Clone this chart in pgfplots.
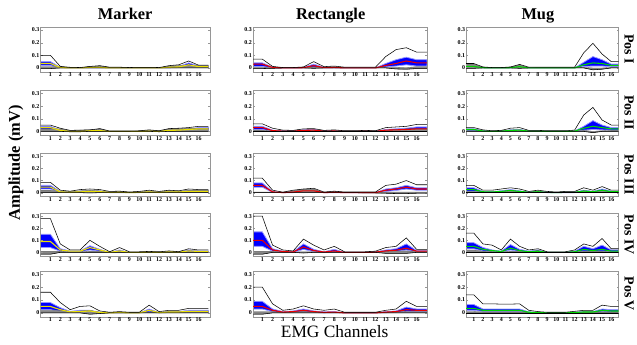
\documentclass[border=0pt]{standalone}
\usepackage{fontspec}
\setmainfont{Liberation Serif}
\usepackage{pgfplots}
\usepackage{pgfplotstable}
\pgfplotsset{compat=1.18}
\definecolor{meanY}{RGB}{235,225,0}
\definecolor{meanR}{RGB}{235,0,0}
\definecolor{meanG}{RGB}{0,215,0}
\definecolor{graymid}{RGB}{135,135,135}
\definecolor{lightblue}{RGB}{150,150,255}
\definecolor{framegray}{RGB}{150,150,150}

% columns: x = channel (0 and 17 repeat channels 1 and 16), mx = max, bu/bl = blue band, mn = mean, lo = min, g = grey band top
\pgfplotstableread{
x mx bu mn bl lo g
0 0.10 0.05 0.035 0.02 -0.005 0.01
1 0.10 0.05 0.035 0.02 -0.005 0.01
2 0.012 0.005 0.003 0 0 0.01
3 0.005 0.002 0 0 0 0.003
4 0.003 0 0 0 0 0
5 0.012 0.006 0.004 0 0 0.012
6 0.018 0.006 0.004 0 0 0.015
7 0.006 0.002 0 0 0 0.004
8 0.006 0.002 0.001 0 0 0.004
9 0.003 0 0 0 0 0
10 0.005 0.002 0 0 0 0.003
11 0.005 0.002 0 0 0 0.003
12 0.003 0 0 0 0 0
13 0.018 0.008 0.005 0 0 0.015
14 0.025 0.012 0.008 0.003 0 0.02
15 0.055 0.04 0.025 0.015 0 0.02
16 0.022 0.015 0.01 0.005 0 0.02
17 0.022 0.015 0.01 0.005 0 0.02
}\tMa
\pgfplotstableread{
x mx bu mn bl lo g
0 0.07 0.04 0.03 0.012 -0.005 0.005
1 0.07 0.04 0.03 0.012 -0.005 0.005
2 0.012 0.006 0.004 0 -0.003 0.003
3 0.003 0 0 0 0 0
4 0.003 0 0 0 0 0
5 0.008 0.004 0.002 0 0 0.002
6 0.05 0.03 0.018 0.006 -0.003 0.008
7 0.01 0.004 0.002 0 0 0.002
8 0.015 0.006 0.004 0 0 0.01
9 0.006 0 0 0 0 0
10 0.006 0 0 0 0 0
11 0.006 0 0 0 0 0
12 0.006 0 0 0 0 0
13 0.09 0.035 0.02 0.008 0 0.005
14 0.145 0.065 0.035 0.015 -0.008 0.005
15 0.16 0.085 0.055 0.025 -0.01 0.003
16 0.125 0.065 0.04 0.015 -0.005 0.01
17 0.125 0.065 0.04 0.015 -0.005 0.01
}\tRa
\pgfplotstableread{
x mx bu mn bl lo g
0 0.035 0.02 0.012 0.005 -0.003 0.03
1 0.035 0.02 0.012 0.005 -0.003 0.03
2 0.008 0.003 0.002 0 0 0.005
3 0.003 0 0 0 0 0
4 0.003 0 0 0 0 0
5 0.008 0.003 0.002 0 0 0.005
6 0.028 0.015 0.01 0.005 -0.003 0.025
7 0.006 0 0 0 0 0
8 0.006 0 0 0 0 0.003
9 0.006 0 0 0 0 0.003
10 0.006 0 0 0 0 0.003
11 0.006 0 0 0 0 0.003
12 0.006 0 0 0 0 0.003
13 0.12 0.045 0.025 0.012 0 0.005
14 0.195 0.09 0.04 0.015 -0.015 0
15 0.11 0.065 0.035 0.015 -0.01 0
16 0.05 0.03 0.02 0.01 0 0.005
17 0.05 0.03 0.02 0.01 0 0.005
}\tUa
\pgfplotstableread{
x mx bu mn bl lo g
0 0.05 0.04 0.03 0.015 0 0.02
1 0.05 0.04 0.03 0.015 0 0.02
2 0.025 0.01 0.008 0.003 0 0.02
3 0.008 0.003 0 0 -0.003 0.005
4 0.01 0.004 0 0 -0.003 0.01
5 0.012 0.008 0.005 0 0 0.012
6 0.022 0.01 0.006 0.002 0 0.02
7 0.003 0 0 0 0 0
8 0.003 0 0 0 0 0
9 0.003 0 0 0 0 0
10 0.005 0 0 0 0 0.003
11 0.012 0.005 0.002 0 0 0.01
12 0.005 0 0 0 -0.003 0.003
13 0.022 0.012 0.008 0.003 0 0.02
14 0.025 0.014 0.01 0.005 0 0.022
15 0.03 0.02 0.015 0.008 0 0.025
16 0.04 0.03 0.02 0.01 0 0.025
17 0.04 0.03 0.02 0.01 0 0.025
}\tMb
\pgfplotstableread{
x mx bu mn bl lo g
0 0.06 0.04 0.03 0.015 0 0.01
1 0.06 0.04 0.03 0.015 0 0.01
2 0.025 0.01 0.006 0.002 0 0.005
3 0.01 0.004 0.002 0 0 0.003
4 0.008 0.003 0.002 0 0 0.003
5 0.02 0.012 0.008 0.003 0 0.01
6 0.022 0.015 0.01 0.004 0 0.012
7 0.008 0.003 0.002 0 0 0.003
8 0.012 0.005 0.003 0 0 0.005
9 0.005 0 0 0 0 0.002
10 0.005 0 0 0 0 0.002
11 0.008 0.003 0.002 0 0 0.003
12 0.005 0 0 0 0 0.002
13 0.03 0.015 0.01 0.004 0 0.01
14 0.035 0.02 0.012 0.005 0 0.015
15 0.04 0.025 0.015 0.006 0 0.02
16 0.055 0.035 0.02 0.01 0 0.02
17 0.055 0.035 0.02 0.01 0 0.02
}\tRb
\pgfplotstableread{
x mx bu mn bl lo g
0 0.03 0.02 0.015 0.005 0 0.005
1 0.03 0.02 0.015 0.005 0 0.005
2 0.012 0.005 0.003 0 0 0.003
3 0.005 0 0 0 0 0
4 0.008 0.003 0.002 0 0 0.003
5 0.025 0.012 0.008 0.003 0 0.01
6 0.03 0.015 0.01 0.004 0 0.012
7 0.008 0.003 0.002 0 0 0.003
8 0.008 0.003 0.002 0 0 0.003
9 0.005 0 0 0 0 0
10 0.005 0 0 0 0 0
11 0.005 0 0 0 0 0
12 0.01 0.003 0.002 0 0 0.003
13 0.13 0.04 0.025 0.01 0 0.008
14 0.19 0.085 0.04 0.015 -0.01 0
15 0.09 0.05 0.03 0.012 0 0.005
16 0.05 0.03 0.02 0.01 0 0.008
17 0.05 0.03 0.02 0.01 0 0.008
}\tUb
\pgfplotstableread{
x mx bu mn bl lo g
0 0.085 0.06 0.045 0.03 0 0.02
1 0.085 0.06 0.045 0.03 0 0.02
2 0.02 0.01 0.006 0.002 0 0.01
3 0.012 0.005 0.003 0 0 0.008
4 0.025 0.01 0.006 0.002 0 0.015
5 0.03 0.015 0.01 0.004 -0.003 0.02
6 0.025 0.012 0.008 0.003 0 0.015
7 0.01 0.003 0.002 0 0 0.005
8 0.012 0.005 0.003 0 0 0.008
9 0.005 0 0 0 0 0.003
10 0.01 0.003 0.002 0 0 0.005
11 0.02 0.01 0.006 0.002 0 0.01
12 0.01 0.003 0.002 0 0 0.005
13 0.02 0.01 0.006 0.002 0 0.015
14 0.015 0.008 0.005 0.002 0 0.01
15 0.03 0.015 0.01 0.004 0 0.02
16 0.025 0.015 0.01 0.005 0 0.02
17 0.025 0.015 0.01 0.005 0 0.02
}\tMc
\pgfplotstableread{
x mx bu mn bl lo g
0 0.12 0.08 0.06 0.045 0 0.005
1 0.12 0.08 0.06 0.045 0 0.005
2 0.02 0.008 0.006 0.002 0 0.005
3 0.004 0 0 0 0 0
4 0.02 0.008 0.004 0 0 0.015
5 0.03 0.02 0.015 0.008 0 0.028
6 0.036 0.02 0.015 0.008 0 0.03
7 0.005 0 0 0 0 0
8 0.012 0.004 0.003 0 0 0.008
9 0.005 0 0 0 0 0.003
10 0.005 0 0 0 0 0.003
11 0.005 0 0 0 -0.003 0.003
12 0.005 0 0 0 -0.003 0.003
13 0.06 0.03 0.02 0.01 -0.005 0.005
14 0.07 0.04 0.03 0.018 -0.008 0.005
15 0.10 0.06 0.045 0.03 -0.008 0.005
16 0.065 0.04 0.03 0.02 -0.005 0.005
17 0.065 0.04 0.03 0.02 -0.005 0.005
}\tRc
\pgfplotstableread{
x mx bu mn bl lo g
0 0.06 0.04 0.025 0.012 0 0.01
1 0.06 0.04 0.025 0.012 0 0.01
2 0.02 0.01 0.007 0.003 0 0.005
3 0.02 0.008 0.005 0.002 0 0.005
4 0.03 0.015 0.01 0.004 0 0.01
5 0.04 0.025 0.018 0.01 0 0.015
6 0.03 0.015 0.01 0.005 0 0.01
7 0.01 0.004 0.003 0 0 0.003
8 0.02 0.01 0.007 0.003 0 0.01
9 0.01 0.003 0.002 0 0 0.003
10 0.005 0 0 0 0 0.002
11 0.01 0.003 0.002 0 0 0.005
12 0.01 0.003 0.002 0 0 0.005
13 0.04 0.02 0.013 0.006 0 0.015
14 0.02 0.01 0.007 0.003 0 0.01
15 0.05 0.03 0.02 0.01 0 0.015
16 0.02 0.012 0.008 0.004 0 0.01
17 0.02 0.012 0.008 0.004 0 0.01
}\tUc
\pgfplotstableread{
x mx bu mn bl lo g
0 0.28 0.15 0.09 0.04 -0.015 0.01
1 0.28 0.15 0.09 0.04 -0.015 0.01
2 0.07 0.03 0.02 0.01 0 0.01
3 0.02 0.012 0.01 0.005 0 0.005
4 0.02 0.012 0.01 0.005 0 0.005
5 0.10 0.055 0.04 0.02 0 0.01
6 0.05 0.025 0.02 0.01 0 0.01
7 0.005 0 0 0 0 0
8 0.04 0.02 0.012 0.005 0 0.005
9 0.005 0 0 0 0 0
10 0.005 0 0 0 0 0
11 0.008 0.003 0.002 0 0 0.003
12 0.005 0 0 0 0 0
13 0.012 0.006 0.004 0 0 0.005
14 0.006 0.003 0.002 0 0 0.003
15 0.03 0.02 0.012 0.005 0 0.005
16 0.02 0.012 0.008 0.004 0 0.005
17 0.02 0.012 0.008 0.004 0 0.005
}\tMd
\pgfplotstableread{
x mx bu mn bl lo g
0 0.30 0.17 0.10 0.05 -0.015 0.01
1 0.30 0.17 0.10 0.05 -0.015 0.01
2 0.06 0.03 0.02 0.01 0 0.01
3 0.02 0.01 0.007 0.003 0 0.005
4 0.012 0.005 0.003 0 0 0.003
5 0.11 0.07 0.045 0.025 -0.005 0.005
6 0.06 0.025 0.015 0.007 0 0.005
7 0.02 0.005 0.003 0 0 0.003
8 0.05 0.025 0.012 0.005 0 0.005
9 0.005 0 0 0 0 0
10 0.005 0 0 0 0 0
11 0.005 0 0 0 0 0
12 0.01 0.004 0.002 0 0 0.005
13 0.04 0.02 0.012 0.005 -0.008 0.01
14 0.05 0.03 0.018 0.008 -0.008 0.012
15 0.12 0.07 0.035 0.02 -0.008 0.012
16 0.025 0.015 0.01 0.005 0 0.008
17 0.025 0.015 0.01 0.005 0 0.008
}\tRd
\pgfplotstableread{
x mx bu mn bl lo g
0 0.16 0.08 0.05 0.03 0 0.02
1 0.16 0.08 0.05 0.03 0 0.02
2 0.07 0.04 0.025 0.012 0 0.01
3 0.06 0.02 0.015 0.008 0 0.008
4 0.02 0.01 0.007 0.003 0 0.005
5 0.11 0.065 0.035 0.02 0 0.01
6 0.05 0.025 0.015 0.008 0 0.01
7 0.02 0.01 0.005 0.002 0 0.005
8 0.03 0.02 0.01 0.005 0 0.015
9 0.005 0 0 0 0 0
10 0.005 0 0 0 0 0
11 0.005 0 0 0 0 0
12 0.02 0.01 0.005 0.002 0 0.005
13 0.07 0.05 0.025 0.012 0 0.01
14 0.05 0.03 0.015 0.008 0 0.01
15 0.115 0.06 0.025 0.012 0 0.01
16 0.03 0.02 0.01 0.005 0 0.005
17 0.03 0.02 0.01 0.005 0 0.005
}\tUd
\pgfplotstableread{
x mx bu mn bl lo g
0 0.16 0.08 0.05 0.025 0 0.02
1 0.16 0.08 0.05 0.025 0 0.02
2 0.08 0.04 0.025 0.012 0 0.02
3 0.025 0.012 0.008 0.004 0 0.01
4 0.05 0.02 0.01 0.004 0 0.015
5 0.055 0.02 0.015 0.006 -0.01 0.02
6 0.015 0.005 0.003 0 -0.005 0.005
7 0.005 0 0 0 0 0
8 0.01 0.004 0.003 0 0 0.005
9 0.005 0 0 0 0 0
10 0.005 0 0 0 0 0
11 0.06 0.03 0.02 0.008 0 0.005
12 0.01 0.003 0.002 0 0 0.005
13 0.02 0.01 0.007 0.003 0 0.01
14 0.02 0.01 0.007 0.003 0 0.01
15 0.035 0.02 0.012 0.006 0 0.01
16 0.035 0.02 0.012 0.006 0 0.01
17 0.035 0.02 0.012 0.006 0 0.01
}\tMe
\pgfplotstableread{
x mx bu mn bl lo g
0 0.20 0.09 0.05 0.03 -0.01 0.01
1 0.20 0.09 0.05 0.03 -0.01 0.01
2 0.07 0.03 0.02 0.01 0 0.01
3 0.02 0.01 0.006 0.003 0 0.005
4 0.03 0.015 0.01 0.004 0 0.008
5 0.055 0.03 0.02 0.01 0 0.01
6 0.03 0.015 0.01 0.004 0 0.008
7 0.02 0.008 0.004 0 0 0.005
8 0.03 0.01 0.006 0.002 0 0.005
9 0.005 0 0 0 0 0
10 0.005 0 0 0 0 0
11 0.005 0 0 0 0 0
12 0.005 0 0 0 0 0
13 0.02 0.01 0.006 0.002 0 0.005
14 0.03 0.015 0.01 0.004 0 0.008
15 0.09 0.045 0.025 0.012 0 0.01
16 0.05 0.03 0.02 0.01 0 0.01
17 0.05 0.03 0.02 0.01 0 0.01
}\tRe
\pgfplotstableread{
x mx bu mn bl lo g
0 0.14 0.065 0.035 0.02 0 0.01
1 0.14 0.065 0.035 0.02 0 0.01
2 0.07 0.03 0.02 0.012 0 0.008
3 0.07 0.03 0.02 0.012 0 0.008
4 0.068 0.03 0.02 0.012 0 0.008
5 0.068 0.03 0.02 0.012 0 0.008
6 0.07 0.03 0.02 0.012 0 0.008
7 0.02 0.008 0.005 0.003 0 0.005
8 0.01 0.004 0.003 0 0 0.003
9 0.005 0 0 0 0 0
10 0.005 0 0 0 0 0
11 0.005 0 0 0 0 0
12 0.012 0.005 0.003 0 0 0.003
13 0.02 0.01 0.007 0.003 0 0.008
14 0.02 0.01 0.007 0.003 0 0.008
15 0.06 0.03 0.02 0.01 0 0.008
16 0.05 0.025 0.015 0.008 0 0.008
17 0.05 0.025 0.015 0.008 0 0.008
}\tUe

\pgfplotsset{panel/.style={
  scale only axis, anchor=north west,
  ymin=-0.03, ymax=0.325,
  ytick={0,0.1,0.2,0.3}, yticklabels={0,0.1,0.2,0.3},
  xtick={1,2,3,4,5,6,7,8,9,10,11,12,13,14,15,16},
  xticklabels={1,2,3,4,5,6,7,8,9,10,11,12,13,14,15,16},
  axis line style={draw=framegray},
  tick align=inside, major tick length=2bp,
  ytick style={draw=framegray}, xtick style={draw=none},
  tick label style={font=\fontsize{6}{6}\selectfont\bfseries, inner sep=1bp},
}}

% #1 table, #2 left, #3 top (from bottom), #4 width, #5 height, #6 xmin, #7 xmax, #8 mean colour
\newcommand\panel[8]{%
\begin{axis}[panel, hide axis, stack plots=y, at={(#2bp,#3bp)}, width=#4bp, height=#5bp, xmin=#6, xmax=#7]
\addplot[draw=none] table[x=x,y=lo]{#1};
\addplot[fill=graymid, draw=black!60, line width=0.3pt] table[x=x,y expr=\thisrow{g}-\thisrow{lo}]{#1} \closedcycle;
\addplot[draw=none] table[x=x,y expr=\thisrow{bl}-\thisrow{g}]{#1};
\addplot[fill=blue, draw=lightblue, line width=0.8pt] table[x=x,y expr=\thisrow{bu}-\thisrow{bl}]{#1} \closedcycle;
\end{axis}
\begin{axis}[panel, at={(#2bp,#3bp)}, width=#4bp, height=#5bp, xmin=#6, xmax=#7]
\addplot[#8, line width=1.1pt] table[x=x,y=mn]{#1};
\addplot[black, line width=0.55pt] table[x=x,y=mx]{#1};
\addplot[black, line width=0.55pt] table[x=x,y=lo]{#1};
\end{axis}}

\begin{document}
\begin{tikzpicture}
\path (0,0) rectangle (637bp,346bp);
% row 1
\panel{\tMa}{40.7}{319}{170}{45}{0}{17.15}{meanY}
\panel{\tRa}{254}{319}{175}{45}{0.1}{17.04}{meanR}
\panel{\tUa}{468}{319}{153}{45}{0.17}{16.8}{meanG}
% row 2
\panel{\tMb}{40.7}{255.3}{170}{45}{0}{17.15}{meanY}
\panel{\tRb}{254}{255.3}{175}{45}{0.1}{17.04}{meanR}
\panel{\tUb}{468}{255.3}{153}{45}{0.17}{16.8}{meanG}
% row 3
\panel{\tMc}{40.7}{192}{170}{43}{0}{17.15}{meanY}
\panel{\tRc}{254}{192}{175}{43}{0.1}{17.04}{meanR}
\panel{\tUc}{468}{192}{153}{43}{0.17}{16.8}{meanG}
% row 4
\panel{\tMd}{40.7}{132}{170}{43}{0}{17.15}{meanY}
\panel{\tRd}{254}{132}{175}{43}{0.1}{17.04}{meanR}
\panel{\tUd}{468}{132}{153}{43}{0.17}{16.8}{meanG}
% row 5
\panel{\tMe}{40.7}{74}{170}{46}{0}{17.15}{meanY}
\panel{\tRe}{254}{74}{175}{46}{0.1}{17.04}{meanR}
\panel{\tUe}{468}{74}{153}{46}{0.17}{16.8}{meanG}
% titles and labels
\node[font=\fontsize{16.5}{16.5}\selectfont\bfseries, anchor=base] at (125.7bp,326.5bp) {Marker};
\node[font=\fontsize{16.5}{16.5}\selectfont\bfseries, anchor=base] at (332bp,326.5bp) {Rectangle};
\node[font=\fontsize{16.5}{16.5}\selectfont\bfseries, anchor=base] at (540bp,326.5bp) {Mug};
\node[rotate=-90, font=\fontsize{14}{14}\selectfont\bfseries] at (631.5bp,296.5bp) {Pos I};
\node[rotate=-90, font=\fontsize{14}{14}\selectfont\bfseries] at (631.5bp,232.8bp) {Pos II};
\node[rotate=-90, font=\fontsize{14}{14}\selectfont\bfseries] at (631.5bp,170.5bp) {Pos III};
\node[rotate=-90, font=\fontsize{14}{14}\selectfont\bfseries] at (631.5bp,110.5bp) {Pos IV};
\node[rotate=-90, font=\fontsize{14}{14}\selectfont\bfseries] at (631.5bp,51bp) {Pos V};
\node[rotate=90, font=\fontsize{16.5}{16.5}\selectfont\bfseries] at (16bp,182.5bp) {Amplitude (mV)};
\node[font=\fontsize{17.5}{17.5}\selectfont, anchor=base] at (336bp,6.7bp) {EMG Channels};
\end{tikzpicture}
\end{document}
